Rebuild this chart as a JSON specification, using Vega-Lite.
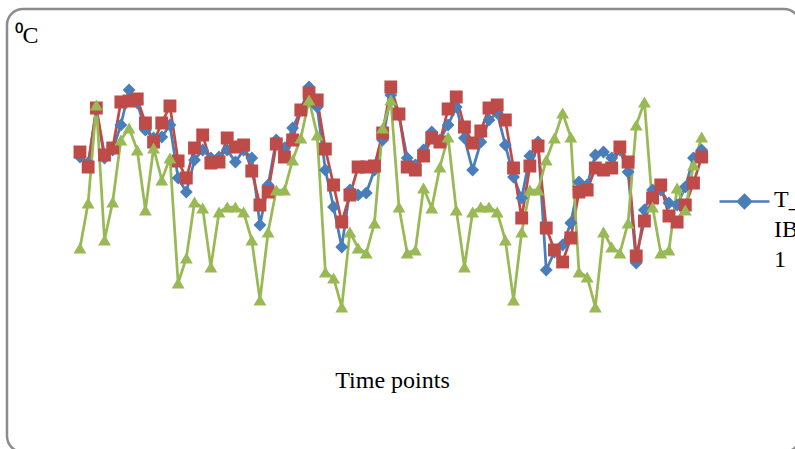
{
  "$schema": "https://vega.github.io/schema/vega-lite/v6.json",
  "width": 793,
  "height": 443,
  "autosize": {"type": "none"},
  "padding": {"left": 7, "top": 9, "right": -5, "bottom": -3},
  "background": "white",
  "config": {
    "view": {"stroke": "#8c8c8c", "strokeWidth": 2.5, "cornerRadius": 16, "fill": "white"},
    "font": "Liberation Serif",
    "axis": {"domain": false, "ticks": false, "labels": false, "grid": false,
             "titleFont": "Liberation Serif", "titleFontWeight": "normal", "titleFontSize": 24, "titleColor": "#000000"}
  },
  "data": {"values": [
    {"t":1,"s":"T_IB1","v":24.3},{"t":2,"s":"T_IB1","v":23.7},{"t":3,"s":"T_IB1","v":29.0},{"t":4,"s":"T_IB1","v":24.2},{"t":5,"s":"T_IB1","v":25.0},
    {"t":6,"s":"T_IB1","v":27.5},{"t":7,"s":"T_IB1","v":31.0},{"t":8,"s":"T_IB1","v":29.7},{"t":9,"s":"T_IB1","v":27.0},{"t":10,"s":"T_IB1","v":26.2},
    {"t":11,"s":"T_IB1","v":26.3},{"t":12,"s":"T_IB1","v":27.5},{"t":13,"s":"T_IB1","v":22.2},{"t":14,"s":"T_IB1","v":20.8},{"t":15,"s":"T_IB1","v":24.0},
    {"t":16,"s":"T_IB1","v":25.0},{"t":17,"s":"T_IB1","v":24.2},{"t":18,"s":"T_IB1","v":24.3},{"t":19,"s":"T_IB1","v":25.0},{"t":20,"s":"T_IB1","v":23.8},
    {"t":21,"s":"T_IB1","v":25.0},{"t":22,"s":"T_IB1","v":24.2},{"t":23,"s":"T_IB1","v":17.5},{"t":24,"s":"T_IB1","v":21.5},{"t":25,"s":"T_IB1","v":26.0},
    {"t":26,"s":"T_IB1","v":25.2},{"t":27,"s":"T_IB1","v":27.2},{"t":28,"s":"T_IB1","v":29.0},{"t":29,"s":"T_IB1","v":31.3},{"t":30,"s":"T_IB1","v":29.3},
    {"t":31,"s":"T_IB1","v":23.0},{"t":32,"s":"T_IB1","v":19.3},{"t":33,"s":"T_IB1","v":15.3},{"t":34,"s":"T_IB1","v":21.0},{"t":35,"s":"T_IB1","v":20.5},
    {"t":36,"s":"T_IB1","v":20.7},{"t":37,"s":"T_IB1","v":23.0},{"t":38,"s":"T_IB1","v":26.0},{"t":39,"s":"T_IB1","v":30.5},{"t":40,"s":"T_IB1","v":28.5},
    {"t":41,"s":"T_IB1","v":24.2},{"t":42,"s":"T_IB1","v":23.5},{"t":43,"s":"T_IB1","v":25.0},{"t":44,"s":"T_IB1","v":26.8},{"t":45,"s":"T_IB1","v":26.0},
    {"t":46,"s":"T_IB1","v":27.5},{"t":47,"s":"T_IB1","v":29.3},{"t":48,"s":"T_IB1","v":26.2},{"t":49,"s":"T_IB1","v":23.0},{"t":50,"s":"T_IB1","v":25.8},
    {"t":51,"s":"T_IB1","v":28.0},{"t":52,"s":"T_IB1","v":28.7},{"t":53,"s":"T_IB1","v":25.5},{"t":54,"s":"T_IB1","v":22.3},{"t":55,"s":"T_IB1","v":20.2},
    {"t":56,"s":"T_IB1","v":24.4},{"t":57,"s":"T_IB1","v":25.8},{"t":58,"s":"T_IB1","v":13.0},{"t":59,"s":"T_IB1","v":14.8},{"t":60,"s":"T_IB1","v":15.5},
    {"t":61,"s":"T_IB1","v":17.7},{"t":62,"s":"T_IB1","v":21.8},{"t":63,"s":"T_IB1","v":21.5},{"t":64,"s":"T_IB1","v":24.5},{"t":65,"s":"T_IB1","v":24.8},
    {"t":66,"s":"T_IB1","v":24.2},{"t":67,"s":"T_IB1","v":25.0},{"t":68,"s":"T_IB1","v":22.8},{"t":69,"s":"T_IB1","v":13.7},{"t":70,"s":"T_IB1","v":19.0},
    {"t":71,"s":"T_IB1","v":21.0},{"t":72,"s":"T_IB1","v":21.0},{"t":73,"s":"T_IB1","v":19.7},{"t":74,"s":"T_IB1","v":19.5},{"t":75,"s":"T_IB1","v":21.3},
    {"t":76,"s":"T_IB1","v":24.2},{"t":77,"s":"T_IB1","v":25.0},

    {"t":1,"s":"T_IB2","v":24.8},{"t":2,"s":"T_IB2","v":23.3},{"t":3,"s":"T_IB2","v":29.2},{"t":4,"s":"T_IB2","v":24.5},{"t":5,"s":"T_IB2","v":25.2},
    {"t":6,"s":"T_IB2","v":29.8},{"t":7,"s":"T_IB2","v":29.9},{"t":8,"s":"T_IB2","v":30.1},{"t":9,"s":"T_IB2","v":27.7},{"t":10,"s":"T_IB2","v":25.8},
    {"t":11,"s":"T_IB2","v":27.7},{"t":12,"s":"T_IB2","v":29.4},{"t":13,"s":"T_IB2","v":23.9},{"t":14,"s":"T_IB2","v":22.2},{"t":15,"s":"T_IB2","v":25.2},
    {"t":16,"s":"T_IB2","v":26.5},{"t":17,"s":"T_IB2","v":23.7},{"t":18,"s":"T_IB2","v":23.8},{"t":19,"s":"T_IB2","v":26.2},{"t":20,"s":"T_IB2","v":25.3},
    {"t":21,"s":"T_IB2","v":25.5},{"t":22,"s":"T_IB2","v":22.9},{"t":23,"s":"T_IB2","v":19.5},{"t":24,"s":"T_IB2","v":20.8},{"t":25,"s":"T_IB2","v":25.6},
    {"t":26,"s":"T_IB2","v":24.3},{"t":27,"s":"T_IB2","v":26.0},{"t":28,"s":"T_IB2","v":29.0},{"t":29,"s":"T_IB2","v":30.7},{"t":30,"s":"T_IB2","v":30.0},
    {"t":31,"s":"T_IB2","v":25.1},{"t":32,"s":"T_IB2","v":21.5},{"t":33,"s":"T_IB2","v":17.8},{"t":34,"s":"T_IB2","v":20.5},{"t":35,"s":"T_IB2","v":23.3},
    {"t":36,"s":"T_IB2","v":23.3},{"t":37,"s":"T_IB2","v":23.4},{"t":38,"s":"T_IB2","v":26.7},{"t":39,"s":"T_IB2","v":31.3},{"t":40,"s":"T_IB2","v":28.6},
    {"t":41,"s":"T_IB2","v":23.3},{"t":42,"s":"T_IB2","v":23.0},{"t":43,"s":"T_IB2","v":24.4},{"t":44,"s":"T_IB2","v":26.2},{"t":45,"s":"T_IB2","v":25.8},
    {"t":46,"s":"T_IB2","v":29.1},{"t":47,"s":"T_IB2","v":30.3},{"t":48,"s":"T_IB2","v":27.3},{"t":49,"s":"T_IB2","v":25.7},{"t":50,"s":"T_IB2","v":26.9},
    {"t":51,"s":"T_IB2","v":29.2},{"t":52,"s":"T_IB2","v":29.5},{"t":53,"s":"T_IB2","v":28.0},{"t":54,"s":"T_IB2","v":23.2},{"t":55,"s":"T_IB2","v":18.2},
    {"t":56,"s":"T_IB2","v":23.4},{"t":57,"s":"T_IB2","v":25.4},{"t":58,"s":"T_IB2","v":17.2},{"t":59,"s":"T_IB2","v":15.0},{"t":60,"s":"T_IB2","v":13.8},
    {"t":61,"s":"T_IB2","v":16.2},{"t":62,"s":"T_IB2","v":20.8},{"t":63,"s":"T_IB2","v":21.0},{"t":64,"s":"T_IB2","v":23.2},{"t":65,"s":"T_IB2","v":23.0},
    {"t":66,"s":"T_IB2","v":23.2},{"t":67,"s":"T_IB2","v":25.3},{"t":68,"s":"T_IB2","v":23.8},{"t":69,"s":"T_IB2","v":14.4},{"t":70,"s":"T_IB2","v":17.9},
    {"t":71,"s":"T_IB2","v":20.2},{"t":72,"s":"T_IB2","v":21.5},{"t":73,"s":"T_IB2","v":18.4},{"t":74,"s":"T_IB2","v":17.8},{"t":75,"s":"T_IB2","v":19.5},
    {"t":76,"s":"T_IB2","v":21.7},{"t":77,"s":"T_IB2","v":24.3},

    {"t":1,"s":"T_IB3","v":15.2},{"t":2,"s":"T_IB3","v":19.7},{"t":3,"s":"T_IB3","v":29.5},{"t":4,"s":"T_IB3","v":16.0},{"t":5,"s":"T_IB3","v":19.8},
    {"t":6,"s":"T_IB3","v":26.0},{"t":7,"s":"T_IB3","v":27.2},{"t":8,"s":"T_IB3","v":25.0},{"t":9,"s":"T_IB3","v":19.0},{"t":10,"s":"T_IB3","v":25.2},
    {"t":11,"s":"T_IB3","v":22.0},{"t":12,"s":"T_IB3","v":24.2},{"t":13,"s":"T_IB3","v":11.7},{"t":14,"s":"T_IB3","v":14.2},{"t":15,"s":"T_IB3","v":19.8},
    {"t":16,"s":"T_IB3","v":19.2},{"t":17,"s":"T_IB3","v":13.3},{"t":18,"s":"T_IB3","v":18.8},{"t":19,"s":"T_IB3","v":19.3},{"t":20,"s":"T_IB3","v":19.3},
    {"t":21,"s":"T_IB3","v":18.8},{"t":22,"s":"T_IB3","v":16.0},{"t":23,"s":"T_IB3","v":10.0},{"t":24,"s":"T_IB3","v":16.8},{"t":25,"s":"T_IB3","v":21.0},
    {"t":26,"s":"T_IB3","v":21.0},{"t":27,"s":"T_IB3","v":24.0},{"t":28,"s":"T_IB3","v":26.2},{"t":29,"s":"T_IB3","v":30.0},{"t":30,"s":"T_IB3","v":26.5},
    {"t":31,"s":"T_IB3","v":12.8},{"t":32,"s":"T_IB3","v":12.2},{"t":33,"s":"T_IB3","v":9.3},{"t":34,"s":"T_IB3","v":16.8},{"t":35,"s":"T_IB3","v":15.2},
    {"t":36,"s":"T_IB3","v":14.7},{"t":37,"s":"T_IB3","v":17.7},{"t":38,"s":"T_IB3","v":27.2},{"t":39,"s":"T_IB3","v":30.0},{"t":40,"s":"T_IB3","v":19.3},
    {"t":41,"s":"T_IB3","v":14.7},{"t":42,"s":"T_IB3","v":15.0},{"t":43,"s":"T_IB3","v":21.2},{"t":44,"s":"T_IB3","v":19.2},{"t":45,"s":"T_IB3","v":23.3},
    {"t":46,"s":"T_IB3","v":26.3},{"t":47,"s":"T_IB3","v":19.0},{"t":48,"s":"T_IB3","v":13.3},{"t":49,"s":"T_IB3","v":18.8},{"t":50,"s":"T_IB3","v":19.3},
    {"t":51,"s":"T_IB3","v":19.3},{"t":52,"s":"T_IB3","v":18.8},{"t":53,"s":"T_IB3","v":16.0},{"t":54,"s":"T_IB3","v":10.0},{"t":55,"s":"T_IB3","v":16.8},
    {"t":56,"s":"T_IB3","v":21.0},{"t":57,"s":"T_IB3","v":21.0},{"t":58,"s":"T_IB3","v":24.0},{"t":59,"s":"T_IB3","v":26.2},{"t":60,"s":"T_IB3","v":28.7},
    {"t":61,"s":"T_IB3","v":26.3},{"t":62,"s":"T_IB3","v":12.8},{"t":63,"s":"T_IB3","v":12.3},{"t":64,"s":"T_IB3","v":9.3},{"t":65,"s":"T_IB3","v":16.8},
    {"t":66,"s":"T_IB3","v":15.3},{"t":67,"s":"T_IB3","v":14.7},{"t":68,"s":"T_IB3","v":17.7},{"t":69,"s":"T_IB3","v":27.5},{"t":70,"s":"T_IB3","v":29.8},
    {"t":71,"s":"T_IB3","v":19.3},{"t":72,"s":"T_IB3","v":14.7},{"t":73,"s":"T_IB3","v":15.0},{"t":74,"s":"T_IB3","v":21.2},{"t":75,"s":"T_IB3","v":19.0},
    {"t":76,"s":"T_IB3","v":23.5},{"t":77,"s":"T_IB3","v":26.3}
  ]},
  "encoding": {
    "x": {"field": "t", "type": "quantitative",
          "scale": {"domain": [-7.92, 89.02], "nice": false, "zero": false},
          "axis": {"title": "Time points", "titleX": 385, "titleY": -65, "titleAlign": "center", "titleBaseline": "alphabetic", "titleAnchor": null}},
    "y": {"field": "v", "type": "quantitative",
          "scale": {"domain": [-5.2, 39.1], "nice": false, "zero": false},
          "axis": {"title": "⁰C", "titleAngle": 0, "titleX": 7, "titleY": 33, "titleAlign": "left", "titleBaseline": "alphabetic", "titleAnchor": null}},
    "color": {"field": "s", "type": "nominal",
              "scale": {"domain": ["T_IB1", "T_IB2", "T_IB3"], "range": ["#4a7ebb", "#be4b48", "#98b954"]},
              "legend": {"values": ["T_IB1"], "orient": "none", "legendX": 711, "legendY": 166, "title": null, "padding": 0,
                         "symbolType": "M-1,0H1M0,-0.26L0.26,0L0,0.26L-0.26,0Z", "symbolSize": 2500, "symbolStrokeWidth": 2.5,
                         "labelFont": "Liberation Serif", "labelFontSize": 24, "labelColor": "#000000", "labelOffset": 3,
                         "labelBaseline": "alphabetic", "labelLimit": 0,
                         "labelExpr": "['T_', 'IB', '1']",
                         "encode": {"labels": {"update": {"lineHeight": {"value": 30}, "dy": {"value": 5}}}}}}
  },
  "layer": [
    {"mark": {"type": "line", "strokeWidth": 2.75, "clip": true}},
    {"transform": [{"filter": "datum.s === 'T_IB1'"}],
     "mark": {"type": "point", "shape": "diamond", "filled": true, "opacity": 1, "size": 165, "clip": true}},
    {"transform": [{"filter": "datum.s === 'T_IB2'"}],
     "mark": {"type": "point", "shape": "square", "filled": true, "opacity": 1, "size": 165, "clip": true}},
    {"transform": [{"filter": "datum.s === 'T_IB3'"}],
     "mark": {"type": "point", "shape": "triangle-up", "filled": true, "opacity": 1, "size": 165, "clip": true}}
  ]
}
